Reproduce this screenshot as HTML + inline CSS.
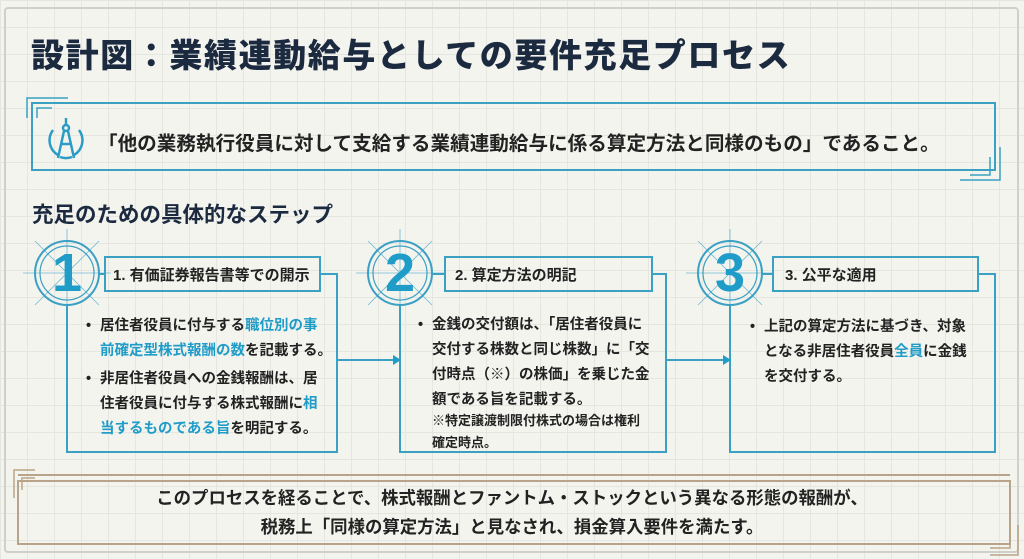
<!DOCTYPE html>
<html><head><meta charset="utf-8"><style>
*{margin:0;padding:0;box-sizing:border-box}
body{width:1024px;height:559px;overflow:hidden;background:#f4f4ef;font-family:"Liberation Sans","Noto Sans CJK JP",sans-serif;font-weight:bold;color:#222;position:relative}
.grid{position:absolute;left:0;top:0;width:1024px;height:559px;background-image:linear-gradient(#e6e6e0 1px,transparent 1px),linear-gradient(90deg,#e6e6e0 1px,transparent 1px);background-size:27px 27px}
.t{position:absolute;white-space:nowrap}
.b{color:#1f9cc8}
.card{position:absolute;font-size:14.5px;line-height:25px;white-space:nowrap}
.card li{list-style:none;position:relative;padding-left:14px;margin-bottom:3px}
.card li:before{content:"•";position:absolute;left:0}
.num{position:absolute;font-size:54px;color:#1f9cc8;font-weight:900;width:60px;text-align:center;line-height:60px}
</style></head><body>
<div class="grid"></div>
<svg width="1024" height="559" style="position:absolute;left:0;top:0">
<rect x="5" y="8" width="1013" height="544" rx="3" fill="none" stroke="#d0d0ca" stroke-width="2"/>
<g stroke="#3aa0c4" fill="none" stroke-width="2">
<rect x="32" y="103" width="963" height="67"/>
<path d="M27,118 V98 H68" stroke-width="1.5"/><path d="M37,118 V108 H52" stroke-width="1.5"/>
<path d="M1000,147 V180 H960" stroke-width="1.5"/><path d="M990,157 V175 H970" stroke-width="1.5"/>
<rect x="105" y="257" width="215" height="34"/>
<path d="M320,274 H337 V452 H67 V305"/>
<rect x="445" y="257" width="207" height="34"/>
<path d="M652,274 H666 V452 H400 V305"/>
<rect x="773" y="257" width="205" height="34"/>
<path d="M978,274 H995 V452 H730 V305"/>
<path d="M337,360 H396"/><path d="M666,360 H726"/>
<path d="M99,274 H105 M432,274 H445 M762,274 H773"/>
</g>
<g fill="#1f9cc8"><path d="M401,360 l-8,-5 v10z"/><path d="M731,360 l-8,-5 v10z"/></g>
<g stroke="#3aa0c4" fill="none">
<g transform="translate(67,273)"><circle r="32" stroke-width="2"/><circle r="27" stroke-width="1.2"/><path d="M-44,0 H44 M0,-44 V44 M-32,-32 L32,32 M32,-32 L-32,32" stroke-width="0.8" opacity="0.7"/></g>
<g transform="translate(400,273)"><circle r="32" stroke-width="2"/><circle r="27" stroke-width="1.2"/><path d="M-44,0 H44 M0,-44 V44 M-32,-32 L32,32 M32,-32 L-32,32" stroke-width="0.8" opacity="0.7"/></g>
<g transform="translate(730,273)"><circle r="32" stroke-width="2"/><circle r="27" stroke-width="1.2"/><path d="M-44,0 H44 M0,-44 V44 M-32,-32 L32,32 M32,-32 L-32,32" stroke-width="0.8" opacity="0.7"/></g>
</g>
<g transform="translate(66,140)" stroke="#2a9cc6" fill="none" stroke-width="2.5">
<path d="M-13,-10 A17,17 0 0 0 -8,15 M13,-10 A17,17 0 0 1 8,15 M-6,17 A17,17 0 0 0 6,17"/>
<circle cx="0" cy="-12" r="3"/><path d="M0,-22 V-15 M-2,-9 L-8,18 M2,-9 L8,18 M-6,4 H6"/>
</g>
<g stroke="#b9a489" fill="none" stroke-width="2">
<path d="M18,475 H1010"/><rect x="18" y="481" width="992" height="63"/>
<path d="M14,498 V470 H35" stroke-width="1.5"/><path d="M22,490 V478 H35" stroke-width="1.5"/>
<path d="M1018,525 V555 H990" stroke-width="1.5"/><path d="M1010,535 V548 H990" stroke-width="1.5"/>
</g>
</svg>
<div class="t" style="left:31px;top:29px;font-size:33px;color:#1c2a40;font-weight:900;letter-spacing:1.6px">設計図：業績連動給与としての要件充足プロセス</div>
<div class="t" style="left:98px;top:127px;font-size:19.6px;color:#222">「他の業務執行役員に対して支給する業績連動給与に係る算定方法と同様のもの」であること。</div>
<div class="t" style="left:32px;top:198px;font-size:21.5px;color:#1c2a40">充足のための具体的なステップ</div>
<div class="num" style="left:37px;top:243px">1</div>
<div class="num" style="left:370px;top:243px">2</div>
<div class="num" style="left:700px;top:243px">3</div>
<div class="t" style="left:113px;top:264px;font-size:15px">1. 有価証券報告書等での開示</div>
<div class="t" style="left:455px;top:264px;font-size:15px">2. 算定方法の明記</div>
<div class="t" style="left:785px;top:264px;font-size:15px">3. 公平な適用</div>
<ul class="card" style="left:86px;top:314px">
<li>居住者役員に付与する<span class="b">職位別の事<br>前確定型株式報酬の数</span>を記載する。</li>
<li>非居住者役員への金銭報酬は、居<br>住者役員に付与する株式報酬に<span class="b">相<br>当するものである旨</span>を明記する。</li>
</ul>
<ul class="card" style="left:418px;top:313px">
<li>金銭の交付額は、「居住者役員に<br>交付する株数と同じ株数」に「交<br>付時点（※）の株価」を乗じた金<br>額である旨を記載する。<div style="font-size:13px;line-height:22px;margin-top:-3px">※特定譲渡制限付株式の場合は権利<br>確定時点。</div></li>
</ul>
<ul class="card" style="left:750px;top:315px">
<li>上記の算定方法に基づき、対象<br>となる非居住者役員<span class="b">全員</span>に金銭<br>を交付する。</li>
</ul>
<div class="t" style="left:0;width:1024px;text-align:center;top:484px;font-size:17.4px;line-height:29px">このプロセスを経ることで、株式報酬とファントム・ストックという異なる形態の報酬が、<br>税務上「同様の算定方法」と見なされ、損金算入要件を満たす。</div>
</body></html>
